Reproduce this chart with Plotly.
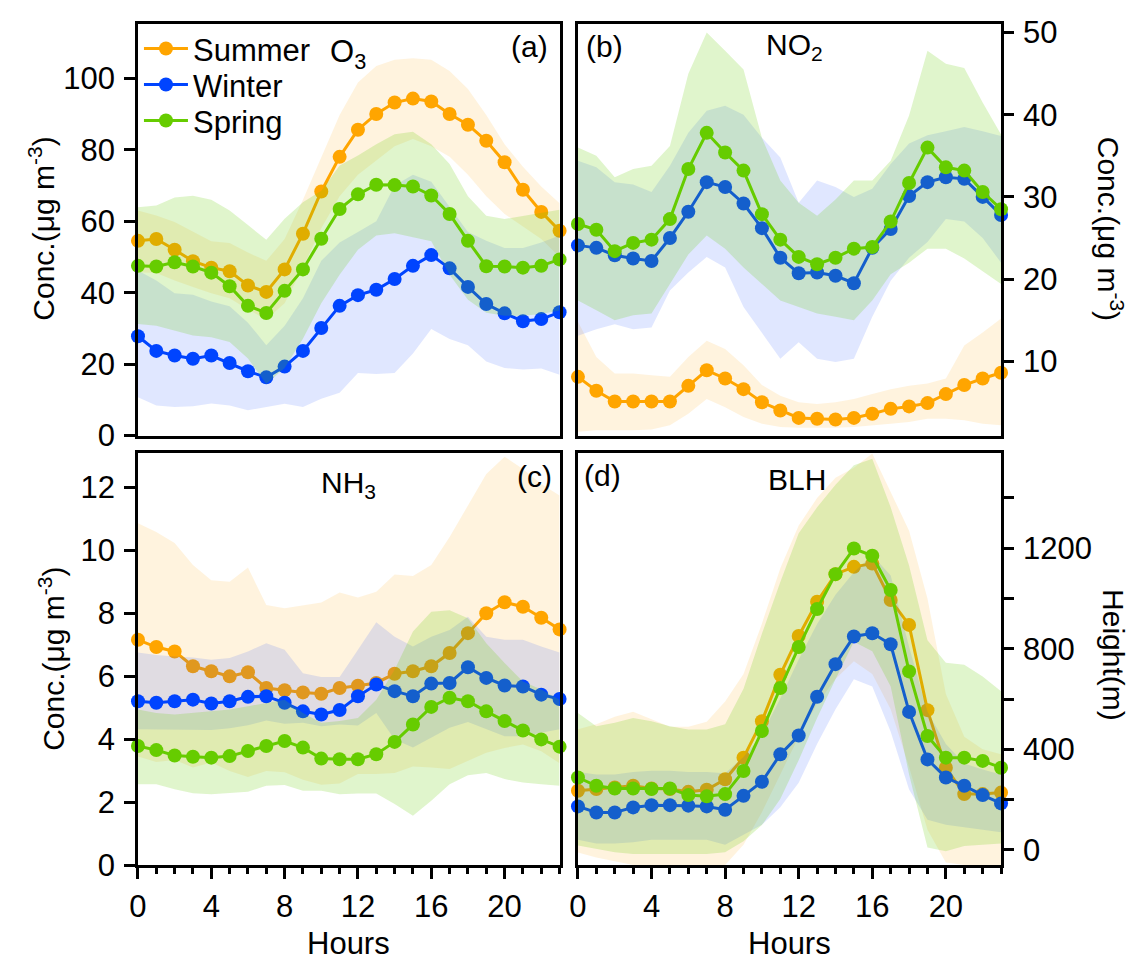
import plotly.graph_objects as go

W, H = 1133, 974
FONT = "Liberation Sans, Arial, sans-serif"

hours = list(range(24))

# ---------------- Panel (a) O3 ----------------
o3_summer_mean = [54.5, 55.0, 52.0, 48.8, 47.0, 46.0, 42.0, 40.2, 46.5, 56.5, 68.3, 78.0, 85.6, 90.0, 93.2, 94.3, 93.5, 90.0, 87.0, 82.5, 76.5, 68.8, 62.6, 57.3]
o3_summer_hi = [63.0, 61.6, 59.8, 57.0, 54.4, 53.9, 51.2, 48.9, 55.0, 66.0, 78.0, 89.7, 98.8, 103.4, 105.2, 105.6, 105.2, 102.0, 97.0, 89.7, 81.5, 75.2, 69.7, 65.0]
o3_summer_lo = [45.7, 45.5, 43.4, 41.6, 39.8, 38.4, 35.3, 32.5, 37.0, 47.0, 58.0, 67.0, 73.0, 77.0, 81.0, 83.0, 81.0, 78.0, 73.0, 67.0, 62.0, 58.5, 55.0, 50.0]
o3_winter_mean = [27.8, 23.7, 22.4, 21.5, 22.4, 20.3, 18.0, 16.3, 19.3, 23.7, 30.1, 36.3, 39.3, 40.8, 43.8, 47.5, 50.5, 46.8, 41.6, 36.8, 34.2, 32.0, 32.6, 34.5]
o3_winter_hi = [46.2, 43.4, 39.8, 39.4, 37.5, 36.2, 31.6, 25.3, 30.7, 38.4, 48.9, 54.0, 57.0, 60.0, 70.0, 73.0, 71.0, 64.0, 57.0, 54.5, 52.5, 52.5, 54.0, 56.0]
o3_winter_lo = [10.7, 8.4, 8.0, 8.2, 9.0, 8.4, 7.1, 8.0, 8.9, 8.0, 10.3, 12.0, 17.5, 17.2, 17.5, 23.0, 29.8, 27.0, 25.3, 20.7, 18.9, 18.5, 18.8, 17.0]
o3_spring_mean = [47.5, 47.3, 48.5, 47.3, 45.6, 41.8, 36.3, 34.3, 40.5, 46.5, 55.1, 63.4, 67.5, 70.2, 70.1, 69.7, 67.2, 62.0, 54.5, 47.4, 47.3, 47.0, 47.5, 49.3]
o3_spring_hi = [63.9, 64.4, 66.6, 67.1, 66.0, 63.0, 58.9, 54.8, 60.7, 65.3, 68.5, 75.6, 78.4, 81.5, 84.3, 85.0, 81.5, 76.0, 67.0, 61.5, 60.6, 61.5, 62.5, 63.2]
o3_spring_lo = [31.2, 30.7, 29.4, 28.0, 27.5, 26.2, 21.6, 14.4, 18.9, 27.1, 37.0, 45.0, 52.0, 56.0, 56.6, 55.5, 54.4, 45.0, 38.0, 34.4, 33.5, 33.5, 34.0, 35.0]

# ---------------- Panel (b) NO2 ----------------
no2_summer_mean = [8.1, 6.4, 5.1, 5.1, 5.1, 5.1, 7.0, 8.9, 7.9, 6.6, 5.0, 4.0, 3.1, 3.0, 2.9, 3.1, 3.6, 4.2, 4.5, 4.9, 6.0, 7.1, 7.9, 8.6]
no2_summer_hi = [14.8, 10.5, 8.5, 8.5, 8.3, 8.1, 10.5, 12.5, 11.5, 9.5, 7.1, 5.8, 5.0, 4.8, 5.0, 5.4, 6.0, 6.6, 7.0, 7.3, 7.9, 11.9, 13.5, 15.2]
no2_summer_lo = [1.4, 1.6, 1.6, 1.6, 1.7, 2.2, 3.6, 5.4, 4.4, 3.2, 2.4, 2.0, 1.9, 1.9, 1.9, 2.0, 2.2, 2.4, 2.6, 3.0, 3.0, 2.8, 2.4, 2.2]
no2_winter_mean = [24.1, 23.8, 22.9, 22.5, 22.2, 25.0, 28.2, 31.8, 31.2, 29.2, 26.2, 22.6, 20.7, 20.8, 20.4, 19.5, 23.8, 26.1, 30.1, 31.8, 32.4, 32.2, 30.0, 27.8]
no2_winter_hi = [34.4, 33.6, 31.8, 31.5, 30.6, 33.8, 37.8, 40.5, 41.1, 40.0, 37.2, 34.8, 29.3, 32.0, 31.2, 30.0, 31.0, 34.0, 36.5, 37.5, 38.0, 38.5, 38.0, 37.4]
no2_winter_lo = [13.1, 13.9, 14.5, 13.9, 14.1, 18.6, 20.8, 22.7, 21.4, 16.6, 13.5, 10.3, 12.3, 10.3, 9.9, 10.3, 15.4, 19.8, 22.6, 24.5, 27.3, 27.0, 25.0, 22.0]
no2_spring_mean = [26.7, 26.0, 23.4, 24.4, 24.8, 27.3, 33.4, 37.8, 35.4, 33.2, 27.9, 24.8, 22.7, 21.8, 22.6, 23.7, 23.9, 27.0, 31.7, 36.0, 33.6, 33.2, 30.6, 28.5]
no2_spring_hi = [36.0, 35.0, 32.4, 33.4, 33.8, 36.2, 45.0, 50.0, 47.8, 45.5, 37.2, 32.0, 29.3, 27.7, 29.7, 32.0, 32.0, 34.4, 39.9, 47.8, 46.2, 45.7, 41.5, 37.6]
no2_spring_lo = [17.4, 16.2, 15.0, 15.6, 15.8, 19.4, 23.0, 25.3, 23.7, 21.4, 19.4, 17.4, 16.6, 15.8, 15.4, 15.0, 17.4, 20.6, 22.0, 23.7, 23.7, 22.5, 21.0, 19.4]

# ---------------- Panel (c) NH3 ----------------
nh3_summer_mean = [7.16, 6.93, 6.79, 6.32, 6.16, 6.0, 6.13, 5.63, 5.56, 5.49, 5.45, 5.63, 5.7, 5.79, 6.08, 6.16, 6.32, 6.74, 7.37, 8.0, 8.35, 8.21, 7.86, 7.49]
nh3_summer_hi = [10.86, 10.58, 10.23, 9.53, 9.05, 9.0, 9.45, 8.26, 8.16, 8.26, 8.34, 8.66, 8.5, 8.68, 9.23, 9.18, 9.53, 10.42, 11.42, 12.42, 12.97, 12.58, 12.1, 11.74]
nh3_summer_lo = [3.46, 3.28, 3.35, 3.11, 3.27, 3.0, 2.81, 3.0, 2.96, 2.72, 2.56, 2.6, 2.9, 2.9, 2.93, 3.14, 3.11, 3.06, 3.32, 3.58, 3.73, 3.84, 3.62, 3.24]
nh3_winter_mean = [5.21, 5.16, 5.21, 5.26, 5.14, 5.21, 5.35, 5.37, 5.16, 4.89, 4.79, 4.93, 5.37, 5.74, 5.53, 5.37, 5.77, 5.79, 6.29, 5.95, 5.71, 5.68, 5.42, 5.28]
nh3_winter_hi = [6.76, 6.68, 6.63, 6.6, 6.53, 6.58, 6.79, 7.05, 6.84, 6.1, 5.98, 5.98, 6.84, 7.72, 7.26, 6.95, 7.26, 7.47, 7.89, 7.26, 7.16, 7.16, 6.95, 6.76]
nh3_winter_lo = [4.32, 4.3, 4.3, 4.3, 4.3, 4.35, 4.45, 4.6, 4.5, 4.53, 4.42, 4.47, 4.44, 4.84, 4.0, 3.74, 4.05, 4.37, 4.55, 4.32, 4.1, 4.1, 4.21, 4.32]
nh3_spring_mean = [3.79, 3.66, 3.49, 3.45, 3.42, 3.47, 3.63, 3.79, 3.95, 3.74, 3.39, 3.37, 3.37, 3.53, 3.92, 4.47, 5.03, 5.32, 5.21, 4.89, 4.58, 4.28, 4.0, 3.77]
nh3_spring_hi = [4.95, 4.84, 4.79, 4.84, 4.89, 4.95, 5.05, 5.16, 5.26, 4.84, 4.53, 4.58, 4.68, 5.26, 6.21, 7.42, 8.05, 8.1, 7.84, 7.05, 6.42, 5.84, 5.58, 5.26]
nh3_spring_lo = [2.58, 2.58, 2.42, 2.29, 2.26, 2.29, 2.34, 2.53, 2.55, 2.37, 2.37, 2.26, 2.28, 2.28, 1.95, 1.58, 2.05, 2.58, 2.86, 2.93, 2.74, 2.63, 2.58, 2.53]

# ---------------- Panel (d) BLH ----------------
blh_summer_mean = [235, 242, 248, 255, 244, 242, 231, 239, 281, 367, 512, 697, 851, 987, 1097, 1126, 1139, 994, 895, 556, 327, 222, 222, 228]
blh_summer_hi = [480, 500, 530, 550, 520, 490, 490, 510, 590, 700, 900, 1120, 1290, 1400, 1480, 1520, 1577, 1420, 1270, 1000, 620, 450, 400, 380]
blh_summer_lo = [-10, -30, -45, -60, -60, -60, -60, -60, -60, 20, 150, 300, 450, 580, 680, 750, 700, 560, 330, 80, -50, -60, -60, -60]
blh_winter_mean = [173, 149, 149, 169, 178, 178, 176, 173, 160, 215, 271, 380, 455, 609, 739, 849, 862, 818, 549, 360, 288, 255, 218, 185]
blh_winter_hi = [310, 300, 300, 310, 315, 315, 310, 310, 305, 370, 460, 602, 757, 899, 1015, 1105, 1172, 1092, 808, 550, 421, 344, 320, 300]
blh_winter_lo = [40, 25, 25, 30, 40, 40, 40, 40, 20, 60, 100, 170, 267, 421, 560, 679, 650, 470, 240, 120, 100, 90, 80, 70]
blh_spring_mean = [288, 255, 244, 244, 242, 244, 218, 213, 222, 314, 473, 644, 807, 958, 1097, 1199, 1170, 1034, 710, 453, 367, 367, 354, 327]
blh_spring_hi = [545, 492, 506, 525, 512, 492, 479, 479, 500, 641, 860, 1066, 1260, 1363, 1453, 1530, 1556, 1363, 1131, 834, 744, 737, 690, 631]
blh_spring_lo = [17, 4, -9, -16, -16, -16, -16, -16, -9, 34, 99, 202, 357, 525, 679, 828, 790, 650, 300, 10, -5, 15, 20, 25]

series_names = ["Summer", "Winter", "Spring"]
legend_ids = ["legend", "legend2", "legend3"]
line_colors = ["#FFA500", "#0044FF", "#66CC00"]
band_colors = ["rgba(255,165,0,0.13)", "rgba(0,60,255,0.12)", "rgba(102,204,0,0.20)"]

panels = [
    ("x", "y", [(o3_summer_mean, o3_summer_hi, o3_summer_lo),
                (o3_winter_mean, o3_winter_hi, o3_winter_lo),
                (o3_spring_mean, o3_spring_hi, o3_spring_lo)]),
    ("x2", "y2", [(no2_summer_mean, no2_summer_hi, no2_summer_lo),
                  (no2_winter_mean, no2_winter_hi, no2_winter_lo),
                  (no2_spring_mean, no2_spring_hi, no2_spring_lo)]),
    ("x3", "y3", [(nh3_summer_mean, nh3_summer_hi, nh3_summer_lo),
                  (nh3_winter_mean, nh3_winter_hi, nh3_winter_lo),
                  (nh3_spring_mean, nh3_spring_hi, nh3_spring_lo)]),
    ("x4", "y4", [(blh_summer_mean, blh_summer_hi, blh_summer_lo),
                  (blh_winter_mean, blh_winter_hi, blh_winter_lo),
                  (blh_spring_mean, blh_spring_hi, blh_spring_lo)]),
]

fig = go.Figure()
for pi, (xa, ya, sers) in enumerate(panels):
    for si, (mean, hi, lo) in enumerate(sers):
        fig.add_trace(go.Scatter(
            x=hours + hours[::-1], y=hi + lo[::-1], xaxis=xa, yaxis=ya,
            fill="toself", fillcolor=band_colors[si], line=dict(width=0),
            mode="lines", hoverinfo="skip", showlegend=False))
        fig.add_trace(go.Scatter(
            x=hours, y=mean, xaxis=xa, yaxis=ya, mode="lines+markers",
            name=series_names[si], showlegend=(pi == 0), legend=legend_ids[si],
            line=dict(color=line_colors[si], width=3),
            marker=dict(color=line_colors[si], size=14),
            cliponaxis=False))


def px_x(p):
    return p / W


def px_y(p):
    return 1 - p / H


XD_L = [px_x(130), px_x(555)]
XD_R = [px_x(573.5), px_x(1000)]
YD_T = [px_y(439.3), px_y(16)]
YD_B = [px_y(881), px_y(457.7)]

frame = dict(showline=True, mirror=True, linecolor="black", linewidth=2.5,
             showgrid=False, zeroline=False)
tickfont = dict(family=FONT, size=31, color="black")

xbase_top = dict(frame, range=[0, 23], showticklabels=False, ticks="")
xbase_bot = dict(frame, range=[0, 23], tickvals=[0, 4, 8, 12, 16, 20], ticks="outside",
                 ticklen=11, tickwidth=2.5, tickcolor="black", tickfont=tickfont,
                 ticklabelstandoff=1,
                 minor=dict(dtick=1, tick0=0, ticks="outside", ticklen=6, tickwidth=2.5, tickcolor="black"))
ybase = dict(frame, ticks="outside", ticklen=11, tickwidth=2.5, tickcolor="black", tickfont=tickfont,
             ticklabelstandoff=3)


def leg(yc):
    return dict(x=px_x(131), y=px_y(yc), xanchor="left", yanchor="middle",
                bgcolor="rgba(0,0,0,0)", font=dict(family=FONT, size=31, color="black"),
                itemwidth=44, tracegroupgap=0)


fig.update_layout(
    width=W, height=H, margin=dict(l=0, r=0, t=0, b=0),
    paper_bgcolor="white", plot_bgcolor="white",
    font=dict(family=FONT, size=30, color="black"),
    xaxis=dict(xbase_top, domain=XD_L, anchor="y"),
    yaxis=dict(ybase, domain=YD_T, anchor="x", range=[0, 115.3], tickvals=[0, 20, 40, 60, 80, 100]),
    xaxis2=dict(xbase_top, domain=XD_R, anchor="y2"),
    yaxis2=dict(ybase, domain=YD_T, anchor="x2", side="right", range=[0.95, 51.1],
                tickvals=[10, 20, 30, 40, 50], ticklen=10),
    xaxis3=dict(xbase_bot, domain=XD_L, anchor="y3"),
    yaxis3=dict(ybase, domain=YD_B, anchor="x3", range=[0, 13.07], tickvals=[0, 2, 4, 6, 8, 10, 12]),
    xaxis4=dict(xbase_bot, domain=XD_R, anchor="y4"),
    yaxis4=dict(ybase, domain=YD_B, anchor="x4", side="right", range=[-62, 1577],
                tickvals=[0, 200, 400, 600, 800, 1000, 1200, 1400],
                ticktext=["0", "", "400", "", "800", "", "1200", ""], ticklen=10),
    legend=leg(42), legend2=leg(79), legend3=leg(116),
    showlegend=True,
)

ann = []


def add_text(text, x, y, size=30, angle=0, xanchor="center", yanchor="middle"):
    ann.append(dict(text=text, x=px_x(x), y=px_y(y), xref="paper", yref="paper",
                    showarrow=False, textangle=angle, xanchor=xanchor, yanchor=yanchor,
                    font=dict(family=FONT, size=size, color="black")))


add_text("O<sub>3</sub>", 322, 47, size=31, xanchor="left")
add_text("(a)", 525, 40)
add_text("(b)", 600, 40)
add_text("NO<sub>2</sub>", 792, 40)
add_text("(c)", 530, 481)
add_text("NH<sub>3</sub>", 342, 490)
add_text("(d)", 598, 480)
add_text("BLH", 794, 484)
add_text("Conc.(μg m<sup>-3</sup>)", 33, 227, angle=-90)
add_text("Conc.(μg m<sup>-3</sup>)", 43, 669, angle=-90)
add_text("Conc.(μg m<sup>-3</sup>)", 1110, 227, angle=90)
add_text("Height(m)", 1114, 665, angle=90)
add_text("Hours", 342, 961, size=31)
add_text("Hours", 787, 961, size=31)
fig.update_layout(annotations=ann)

fig.write_html("out.html")
